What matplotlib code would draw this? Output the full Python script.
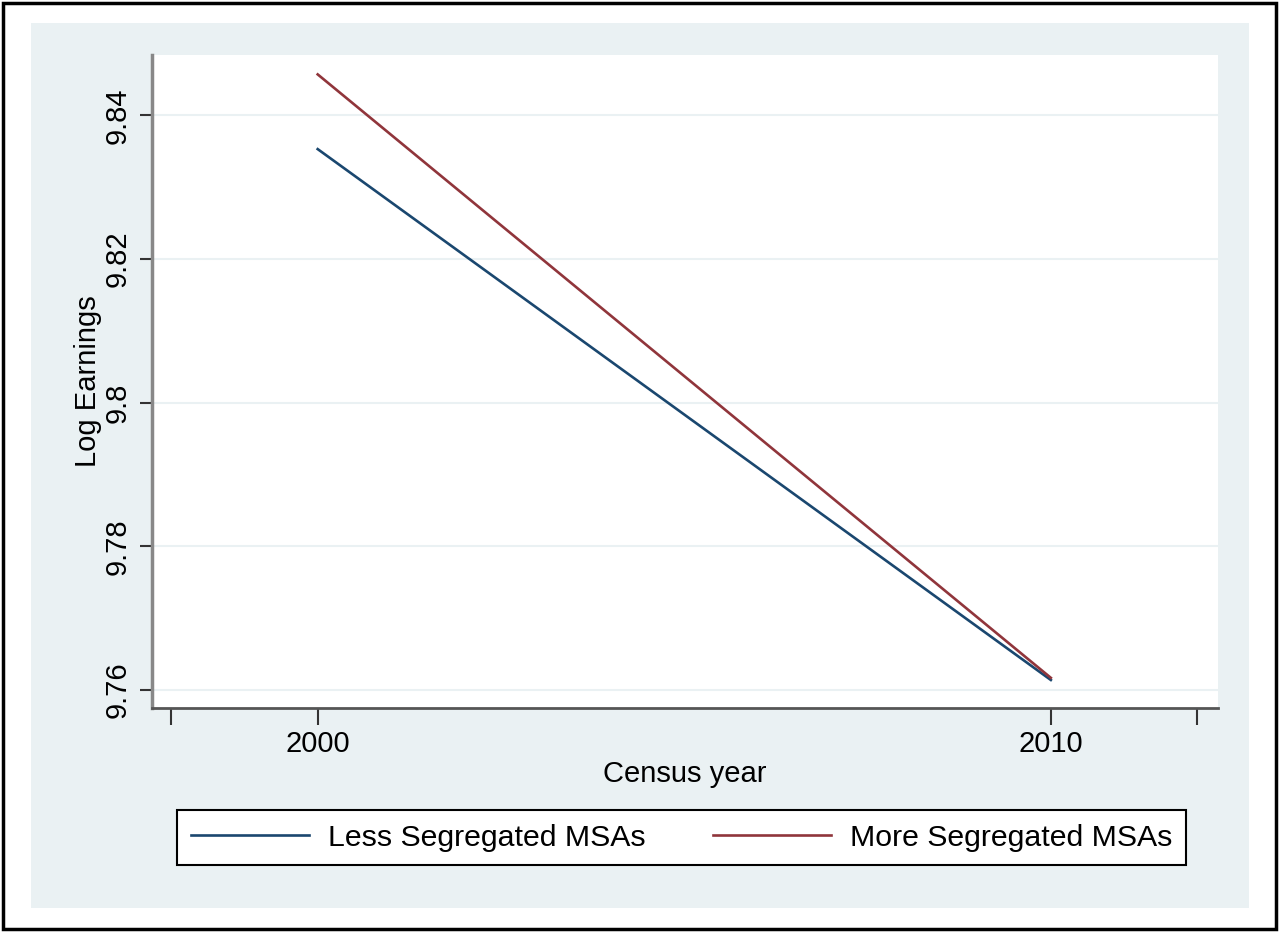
import matplotlib
matplotlib.use('Agg')
import matplotlib.pyplot as plt
from matplotlib.patches import Rectangle

# ── Data ──────────────────────────────────────────────────────────────────────
years = [2000, 2010]
less_seg = [9.8353, 9.7614]
more_seg = [9.8457, 9.7617]
series_labels = ['Less Segregated MSAs', 'More Segregated MSAs']
x_ticks = [1998, 2000, 2010, 2012]
x_ticklabels = ['', '2000', '2010', '']
y_ticks = [9.76, 9.78, 9.80, 9.82, 9.84]
y_ticklabels = ['9.76', '9.78', '9.8', '9.82', '9.84']

BG = '#EAF1F3'
NAVY = '#1a476f'
MAROON = '#90353b'

plt.rcParams['font.family'] = ['Liberation Sans', 'DejaVu Sans']

W, H = 1280, 932
fig = plt.figure(figsize=(W / 100, H / 100), dpi=100)
fig.patch.set_facecolor('white')

# outer frame and graph region (behind the axes)
fig.patches.append(Rectangle((3 / W, 3 / H), 1273 / W, 926 / H, transform=fig.transFigure,
                             fill=False, edgecolor='black', lw=2.5, zorder=-10))
fig.patches.append(Rectangle((31 / W, (H - 908) / H), 1218 / W, 885 / H, transform=fig.transFigure,
                             facecolor=BG, edgecolor='none', zorder=-10))

ax = fig.add_axes([152 / W, (H - 708) / H, (1218 - 152) / W, (708 - 55) / H])
ax.set_zorder(1)
ax.set_facecolor('white')

ax.plot(years, less_seg, color=NAVY, lw=1.9, label=series_labels[0], zorder=3)
ax.plot(years, more_seg, color=MAROON, lw=1.9, label=series_labels[1], zorder=3)

ax.set_xlim(1997.74, 2012.28)
ax.set_ylim(9.7575, 9.8484)

ax.set_xticks(x_ticks)
ax.set_xticklabels(x_ticklabels, fontsize=21)
ax.set_yticks(y_ticks)
ax.set_yticklabels(y_ticklabels, fontsize=21, rotation=90, va='center')

ax.grid(axis='y', color=BG, lw=1.5, zorder=1)
ax.tick_params(axis='x', length=12, width=1.5, color='#333333', pad=4)
ax.tick_params(axis='y', length=9, width=1.5, color='#333333', pad=6)

for side in ['top', 'right']:
    ax.spines[side].set_visible(False)
ax.spines['left'].set_color('#888888')
ax.spines['left'].set_linewidth(2.5)
ax.spines['bottom'].set_color('#555555')
ax.spines['bottom'].set_linewidth(2)

ax.set_xlabel('Census year', fontsize=21, labelpad=1)
ax.set_ylabel('Log Earnings', fontsize=21, labelpad=1)

leg = fig.legend(loc='center left', ncol=2, bbox_to_anchor=(177 / W, (H - 837.5) / H),
                 fontsize=21.8, frameon=True, fancybox=False, edgecolor='black',
                 facecolor='white', framealpha=1,
                 handlelength=3.9, handletextpad=0.65, columnspacing=2.2,
                 borderpad=0.45, borderaxespad=0)
leg.get_frame().set_linewidth(1.5)
leg.set_zorder(5)

fig.savefig('out.png', dpi=100)
